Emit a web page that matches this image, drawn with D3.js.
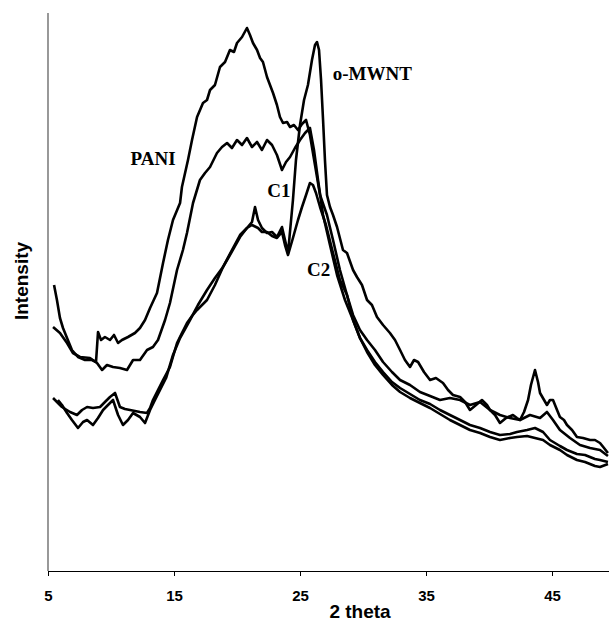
<!DOCTYPE html>
<html lang="en">
	<head>
		<meta charset="utf-8">
		<title>XRD patterns: PANI, o-MWNT, C1, C2</title>
		<style type="text/css">
			body { margin: 0; background: #fff; }
		</style>
	</head>
	<body>
		<script src="https://cdn.jsdelivr.net/npm/d3@7/dist/d3.min.js"></script>
		<script type="text/javascript">
			//Width and height
			var w = 609;
			var h = 623;

			//Tick labels on the 2 theta axis
			var xTicks = [5, 15, 25, 35, 45];

			//Patterns: [2 theta, intensity (a.u.)]
			var pani = [
				[5.48, 286], [5.71, 271], [5.95, 253], [6.19, 243], [6.51, 233], [6.90, 221], [7.38, 214], [7.94, 211],
				[8.49, 211], [8.81, 209], [8.97, 239], [9.21, 231], [9.52, 234], [9.92, 231], [10.24, 236], [10.56, 228],
				[10.87, 231], [11.35, 234], [11.90, 238], [12.30, 243], [12.70, 251], [13.10, 263], [13.65, 278], [14.13, 308],
				[14.52, 331], [14.92, 351], [15.48, 368], [15.63, 384], [16.11, 411], [16.43, 431], [16.83, 454], [17.30, 468],
				[17.62, 471], [17.86, 481], [18.25, 486], [18.65, 504], [19.05, 509], [19.44, 521], [19.76, 519], [20.00, 528],
				[20.40, 534], [20.79, 543], [21.03, 536], [21.27, 528], [21.59, 521], [21.83, 513], [22.06, 509], [22.38, 494],
				[22.62, 486], [22.86, 478], [23.17, 466], [23.41, 454], [23.65, 448], [23.97, 449], [24.21, 444], [24.52, 446],
				[24.84, 441], [25.16, 447], [25.48, 451], [25.79, 436], [26.19, 406], [26.59, 376], [27.14, 356], [27.62, 331],
				[28.17, 301], [28.73, 276], [29.21, 256], [29.76, 241], [30.32, 231], [30.95, 221], [31.59, 209], [32.30, 199],
				[32.94, 191], [33.73, 186], [34.52, 179], [35.32, 175], [36.11, 171], [36.90, 173], [37.70, 171], [38.49, 166],
				[39.29, 169], [40.08, 161], [40.87, 156], [41.67, 153], [42.46, 151], [43.25, 156], [44.05, 153], [44.60, 159],
				[45.08, 151], [45.63, 141], [46.43, 133], [47.22, 126], [48.02, 123], [48.81, 121], [49.44, 115]
			];

			var c1 = [
				[5.40, 244], [5.95, 238], [6.51, 228], [6.98, 218], [7.54, 214], [8.33, 213], [8.89, 208], [9.29, 201],
				[9.68, 206], [10.16, 204], [10.71, 203], [11.27, 201], [11.75, 211], [12.30, 211], [12.86, 221], [13.33, 224],
				[13.73, 231], [14.29, 251], [14.68, 268], [15.24, 301], [15.71, 321], [16.03, 338], [16.51, 368], [17.06, 391],
				[17.46, 398], [17.86, 404], [18.41, 418], [18.81, 424], [19.21, 428], [19.60, 423], [20.00, 431], [20.40, 426],
				[20.79, 433], [21.19, 424], [21.59, 429], [21.98, 421], [22.38, 431], [22.78, 426], [23.17, 416], [23.57, 401],
				[23.89, 409], [24.21, 414], [24.60, 423], [25.00, 431], [25.40, 438], [25.79, 443], [26.11, 421], [26.43, 391],
				[26.83, 356], [27.38, 326], [27.94, 296], [28.57, 271], [29.21, 251], [29.76, 233], [30.32, 221], [30.95, 209],
				[31.59, 199], [32.30, 189], [32.94, 183], [33.73, 177], [34.52, 171], [35.32, 167], [36.11, 161], [36.90, 156],
				[37.70, 151], [38.49, 146], [39.29, 143], [40.08, 139], [40.87, 136], [41.67, 137], [42.22, 139], [43.02, 141],
				[43.65, 143], [44.29, 139], [44.84, 131], [45.63, 125], [46.19, 121], [46.98, 117], [47.62, 116], [48.41, 112],
				[48.81, 111], [49.44, 109]
			];

			var mwnt = [
				[5.40, 173], [5.79, 168], [6.11, 164], [6.75, 159], [7.30, 156], [7.70, 161], [8.10, 164], [8.57, 163],
				[9.13, 164], [9.52, 169], [9.92, 174], [10.32, 178], [10.71, 164], [11.11, 162], [11.51, 161], [12.30, 159],
				[12.86, 158], [13.10, 163], [13.33, 171], [13.73, 181], [14.13, 191], [14.68, 204], [15.24, 228], [15.63, 238],
				[16.03, 248], [16.43, 255], [16.83, 261], [17.62, 271], [18.25, 286], [18.89, 304], [19.44, 316], [20.24, 334],
				[20.79, 343], [21.19, 349], [21.43, 364], [21.67, 351], [21.98, 343], [22.38, 338], [22.78, 339], [23.17, 334],
				[23.57, 344], [23.81, 331], [24.05, 318], [24.44, 371], [24.68, 411], [25.00, 446], [25.32, 471], [25.63, 486],
				[25.95, 511], [26.19, 526], [26.35, 529], [26.51, 521], [26.67, 491], [26.83, 451], [26.98, 411], [27.14, 376],
				[27.38, 364], [27.62, 356], [27.94, 344], [28.41, 321], [28.73, 318], [29.21, 301], [29.52, 294], [29.92, 286],
				[30.32, 271], [30.71, 266], [31.11, 254], [31.59, 246], [32.14, 238], [32.54, 231], [32.94, 221], [33.33, 211],
				[33.73, 204], [34.05, 211], [34.37, 209], [34.84, 199], [35.32, 191], [35.79, 193], [36.35, 188], [36.75, 181],
				[37.14, 176], [37.70, 174], [38.10, 169], [38.49, 161], [38.97, 166], [39.44, 171], [39.84, 166], [40.08, 161],
				[40.48, 156], [40.87, 148], [41.35, 153], [41.90, 156], [42.22, 153], [42.46, 151], [42.78, 159], [43.10, 171],
				[43.33, 186], [43.65, 201], [43.89, 189], [44.05, 178], [44.37, 171], [44.60, 166], [44.84, 171], [45.08, 171],
				[45.40, 161], [45.63, 154], [45.95, 151], [46.19, 146], [46.59, 141], [46.98, 134], [47.46, 133], [48.02, 131],
				[48.41, 131], [48.81, 128], [49.13, 123], [49.44, 118]
			];

			var c2 = [
				[5.79, 171], [6.11, 166], [6.51, 158], [6.90, 151], [7.38, 143], [7.78, 149], [8.10, 151], [8.57, 146],
				[8.97, 153], [9.37, 161], [9.76, 166], [10.16, 171], [10.56, 156], [10.95, 146], [11.35, 151], [11.75, 158],
				[12.30, 154], [12.70, 148], [13.10, 161], [13.49, 171], [13.89, 181], [14.37, 193], [14.92, 216], [15.48, 233],
				[16.27, 251], [16.90, 266], [17.62, 281], [18.25, 293], [18.89, 304], [19.60, 321], [20.24, 336], [20.79, 343],
				[21.19, 346], [21.67, 343], [21.98, 339], [22.38, 339], [22.78, 335], [23.17, 333], [23.57, 339], [23.81, 326],
				[24.05, 316], [24.44, 333], [24.84, 351], [25.16, 364], [25.48, 376], [25.79, 388], [26.03, 386], [26.27, 378],
				[26.59, 364], [27.06, 346], [27.62, 318], [28.17, 291], [28.73, 276], [29.21, 251], [29.76, 233], [30.32, 219],
				[30.95, 206], [31.59, 196], [32.30, 186], [32.94, 179], [33.73, 173], [34.52, 168], [35.32, 163], [36.11, 157],
				[36.90, 151], [37.70, 146], [38.49, 141], [39.29, 138], [40.08, 134], [40.87, 131], [41.67, 133], [42.22, 134],
				[43.02, 135], [43.65, 133], [44.29, 131], [44.84, 126], [45.63, 121], [46.19, 116], [46.98, 111], [47.62, 109],
				[48.41, 105], [48.81, 104], [49.44, 107]
			];

			var series = [pani, c1, mwnt, c2];

			//Curve labels: [name, 2 theta, intensity]
			var labelNames = ["PANI", "C1", "o-MWNT", "C2"];
			var labelTheta = [11.55, 22.4, 27.6, 25.55];
			var labelInt = [406, 374, 491, 295];

			//Create scale functions
			var xScale = d3.scaleLinear()
							.domain([5, 50])
							.range([48, 615]);

			var yScale = d3.scaleLinear()
							.domain([0, 558])
							.range([571, 13]);

			//Create SVG element
			var svg = d3.select("body")
						.append("svg")
						.attr("width", w)
						.attr("height", h);

			//Y axis: plain grey line, no ticks
			svg.append("line")
			   .attr("x1", xScale(5))
			   .attr("x2", xScale(5))
			   .attr("y1", yScale(558))
			   .attr("y2", yScale(0))
			   .attr("stroke", "#7f7f7f")
			   .attr("stroke-width", 1.6);

			//X axis
			var xAxis = d3.axisBottom(xScale)
						  .tickValues(xTicks)
						  .tickSize(5)
						  .tickSizeOuter(0)
						  .tickPadding(14);

			var gx = svg.append("g")
						.attr("transform", "translate(0," + yScale(0) + ")")
						.call(xAxis);

			gx.select(".domain").attr("stroke", "#000").attr("stroke-width", 1.2);
			gx.selectAll(".tick line").attr("stroke", "#000");
			gx.selectAll("text")
			  .attr("font-family", "Liberation Sans, Arial, sans-serif")
			  .attr("font-weight", "bold")
			  .attr("font-size", "15px")
			  .attr("fill", "#000");

			//Create lines
			var line = d3.line()
						 .x(function(d) { return xScale(d[0]); })
						 .y(function(d) { return yScale(d[1]); });

			svg.selectAll("path.pattern")
			   .data(series)
			   .enter()
			   .append("path")
			   .attr("class", "pattern")
			   .attr("d", line)
			   .attr("fill", "none")
			   .attr("stroke", "#000")
			   .attr("stroke-width", 2.6)
			   .attr("stroke-linejoin", "round");

			//Curve labels
			svg.selectAll("text.curve")
			   .data(labelNames)
			   .enter()
			   .append("text")
			   .attr("class", "curve")
			   .text(function(d) { return d; })
			   .attr("x", function(d, i) { return xScale(labelTheta[i]); })
			   .attr("y", function(d, i) { return yScale(labelInt[i]); })
			   .attr("font-family", "Liberation Serif, Times New Roman, serif")
			   .attr("font-weight", "bold")
			   .attr("font-size", "19px");

			//Axis titles
			svg.append("text")
			   .text("2 theta")
			   .attr("x", 360)
			   .attr("y", 618)
			   .attr("text-anchor", "middle")
			   .attr("font-family", "Liberation Sans, Arial, sans-serif")
			   .attr("font-weight", "bold")
			   .attr("font-size", "19px");

			svg.append("text")
			   .text("Intensity")
			   .attr("transform", "translate(28,281) rotate(-90)")
			   .attr("text-anchor", "middle")
			   .attr("font-family", "Liberation Sans, Arial, sans-serif")
			   .attr("font-weight", "bold")
			   .attr("font-size", "19px");
		</script>
	</body>
</html>
